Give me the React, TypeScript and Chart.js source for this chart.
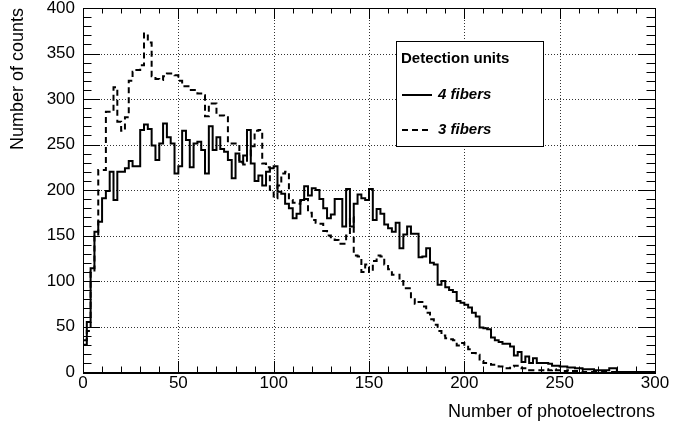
import React, { useEffect, useRef } from "react";
import { Chart, registerables } from "chart.js";

Chart.register(...registerables);

// ---------------- data ----------------
const BIN_WIDTH = 2;
const X_MIN = 0;
const X_MAX = 300;
const Y_MIN = 0;
const Y_MAX = 400;

const xTickValues = [0, 50, 100, 150, 200, 250, 300];
const yTickValues = [0, 50, 100, 150, 200, 250, 300, 350, 400];

const xTitle = "Number of photoelectrons";
const yTitle = "Number of counts";
const legendHeader = "Detection units";
const seriesLabels = ["4 fibers", "3 fibers"];

// counts per 2-photoelectron bin, 4-fiber units (solid)
const fourFibers = [
  30, 55, 114, 154, 165, 191, 199, 220, 189, 220,
  220, 224, 232, 226, 226, 266, 272, 267, 249, 233,
  251, 273, 258, 251, 218, 226, 265, 255, 225, 251,
  253, 244, 218, 270, 244, 258, 245, 242, 233, 213,
  240, 231, 238, 266, 229, 210, 216, 205, 220, 224,
  226, 198, 196, 185, 180, 169, 174, 189, 204, 194,
  202, 200, 190, 180, 169, 173, 190, 190, 160, 201,
  160, 185, 195, 191, 189, 201, 167, 179, 174, 162,
  158, 154, 164, 136, 151, 160, 152, 152, 126, 127,
  136, 120, 118, 96, 100, 93, 90, 88, 78, 76,
  74, 71, 65, 61, 49, 48, 47, 38, 35, 33,
  31, 31, 28, 18, 22, 11, 17, 10, 15, 10,
  10, 10, 9, 7, 7, 6, 6, 5, 5, 4,
  4, 3, 3, 3, 2, 2, 2, 2, 4, 4,
  0, 0, 0, 0, 0, 0, 0, 0, 0, 0,
];

// counts per 2-photoelectron bin, 3-fiber units (dashed)
const threeFibers = [
  35, 45, 110, 150, 222, 222, 286, 286, 313, 275,
  265, 280, 320, 330, 332, 337, 372, 362, 325, 322,
  321, 325, 328, 328, 326, 320, 314, 314, 310, 310,
  306, 304, 281, 295, 295, 282, 282, 280, 251, 251,
  251, 230, 228, 238, 248, 265, 266, 229, 225, 200,
  191, 205, 218, 220, 189, 186, 185, 188, 190, 175,
  167, 164, 163, 155, 150, 148, 145, 141, 141, 150,
  170, 128, 127, 110, 118, 110, 122, 128, 127, 118,
  113, 107, 107, 100, 92, 92, 80, 75, 77, 72,
  65, 58, 52, 45, 40, 37, 36, 35, 29, 32,
  30, 25, 21, 19, 12, 10, 10, 8, 8, 6,
  4, 4, 6, 7, 5, 4, 3, 2, 2, 2,
  2, 3, 2, 3, 2, 2, 1, 2, 1, 1,
  1, 0, 0, 0, 0, 0, 0, 0, 0, 0,
  0, 0, 0, 0, 0, 0, 0, 0, 0, 0,
];

// ---------------- styling ----------------
const FONT = "'Liberation Sans', Arial, Helvetica, sans-serif";
const W = 692;
const H = 426;

function toSteps(values: number[]) {
  const pts = values.map((v, i) => ({ x: X_MIN + i * BIN_WIDTH, y: v }));
  pts.push({ x: X_MIN + values.length * BIN_WIDTH, y: values[values.length - 1] });
  return pts;
}

const rootStyle = {
  id: "rootStyle",
  beforeDatasetsDraw(chart: any) {
    const { ctx, chartArea: a, scales } = chart;
    const xs = scales.x;
    const ys = scales.y;
    ctx.save();
    ctx.strokeStyle = "#333";
    ctx.lineWidth = 1;
    ctx.setLineDash([1, 2]);
    ctx.beginPath();
    for (const v of xTickValues) {
      if (v <= X_MIN || v >= X_MAX) continue;
      const px = Math.round(xs.getPixelForValue(v)) + 0.5;
      ctx.moveTo(px, a.top);
      ctx.lineTo(px, a.bottom);
    }
    for (const v of yTickValues) {
      if (v <= Y_MIN || v >= Y_MAX) continue;
      const py = Math.round(ys.getPixelForValue(v)) + 0.5;
      ctx.moveTo(a.left, py);
      ctx.lineTo(a.right, py);
    }
    ctx.stroke();
    ctx.restore();
  },
  afterDatasetsDraw(chart: any) {
    const { ctx, chartArea: a, scales } = chart;
    const xs = scales.x;
    const ys = scales.y;
    ctx.save();
    ctx.setLineDash([]);
    ctx.strokeStyle = "#000";
    ctx.lineWidth = 1;
    // ticks
    const xMajorLen = 11;
    const xMinorLen = 5.5;
    const yMajorLen = 17;
    const yMinorLen = 8.5;
    ctx.beginPath();
    for (let v = X_MIN; v <= X_MAX; v += 10) {
      const major = v % 50 === 0;
      const len = major ? xMajorLen : xMinorLen;
      const px = Math.round(xs.getPixelForValue(v)) + 0.5;
      ctx.moveTo(px, a.bottom);
      ctx.lineTo(px, a.bottom - len);
      ctx.moveTo(px, a.top);
      ctx.lineTo(px, a.top + len);
    }
    for (let v = Y_MIN; v <= Y_MAX; v += 10) {
      const major = v % 50 === 0;
      const len = major ? yMajorLen : yMinorLen;
      const py = Math.round(ys.getPixelForValue(v)) + 0.5;
      ctx.moveTo(a.left, py);
      ctx.lineTo(a.left + len, py);
      ctx.moveTo(a.right, py);
      ctx.lineTo(a.right - len, py);
    }
    ctx.stroke();
    // frame
    ctx.lineWidth = 1;
    ctx.strokeRect(Math.round(a.left) + 0.5, Math.round(a.top) + 0.5, Math.round(a.right - a.left), Math.round(a.bottom - a.top));
    ctx.lineWidth = 2;
    ctx.beginPath();
    ctx.moveTo(a.left, Math.round(a.bottom) + 1);
    ctx.lineTo(a.right + 1, Math.round(a.bottom) + 1);
    ctx.stroke();

    // legend
    const lx = 396.5;
    const ly = 41.5;
    const lw = 147;
    const lh = 105;
    ctx.fillStyle = "#fff";
    ctx.fillRect(lx, ly, lw, lh);
    ctx.lineWidth = 1;
    ctx.strokeStyle = "#000";
    ctx.strokeRect(lx, ly, lw, lh);
    ctx.fillStyle = "#000";
    ctx.textBaseline = "middle";
    ctx.textAlign = "left";
    ctx.font = `bold 15px ${FONT}`;
    ctx.fillText(legendHeader, 401, 59);
    const rows = [95, 130];
    const dashes = [[], [6, 4]];
    chart.data.datasets.forEach((ds: any, i: number) => {
      ctx.lineWidth = 2;
      ctx.setLineDash(dashes[i]);
      ctx.beginPath();
      ctx.moveTo(402, rows[i]);
      ctx.lineTo(432, rows[i]);
      ctx.stroke();
      ctx.setLineDash([]);
      ctx.font = `italic bold 15px ${FONT}`;
      ctx.fillText(seriesLabels[i], 438, rows[i]);
    });
    ctx.restore();
  },
};

export default function App() {
  const ref = useRef<HTMLCanvasElement | null>(null);

  useEffect(() => {
    document.body.style.margin = "0";
    const canvas = ref.current;
    if (!canvas) return;
    const chart = new Chart(canvas, {
      type: "line",
      data: {
        datasets: [
          {
            label: seriesLabels[0],
            data: toSteps(fourFibers),
            borderColor: "#000",
            borderWidth: 2,
            stepped: "before",
            pointRadius: 0,
            fill: false,
            borderJoinStyle: "miter",
          },
          {
            label: seriesLabels[1],
            data: toSteps(threeFibers),
            borderColor: "#000",
            borderWidth: 2,
            borderDash: [6, 4],
            stepped: "before",
            pointRadius: 0,
            fill: false,
            borderJoinStyle: "miter",
          },
        ],
      },
      options: {
        animation: false,
        responsive: false,
        devicePixelRatio: 1,
        parsing: false,
        normalized: true,
        layout: { padding: { left: 0, right: 37, top: 8, bottom: 0 } },
        plugins: {
          legend: { display: false },
          tooltip: { enabled: false },
        },
        scales: {
          x: {
            type: "linear",
            min: X_MIN,
            max: X_MAX,
            afterBuildTicks: (s: any) => {
              s.ticks = xTickValues.map((v) => ({ value: v }));
            },
            ticks: {
              autoSkip: false,
              maxRotation: 0,
              padding: 1,
              color: "#000",
              font: { family: FONT, size: 17 },
            },
            grid: { display: false, drawTicks: false },
            border: { display: false },
            title: {
              display: true,
              text: xTitle,
              align: "end",
              color: "#000",
              font: { family: FONT, size: 18 },
              padding: { top: 0, bottom: 3 },
            },
            afterFit: (s: any) => {
              s.height = 54;
              s.paddingLeft = 0;
              s.paddingRight = 0;
              s.paddingTop = 0;
              s.paddingBottom = 0;
            },
          },
          y: {
            type: "linear",
            min: Y_MIN,
            max: Y_MAX,
            afterBuildTicks: (s: any) => {
              s.ticks = yTickValues.map((v) => ({ value: v }));
            },
            ticks: {
              autoSkip: false,
              padding: 8,
              color: "#000",
              font: { family: FONT, size: 17 },
            },
            grid: { display: false, drawTicks: false },
            border: { display: false },
            title: {
              display: true,
              text: yTitle,
              align: "end",
              color: "#000",
              font: { family: FONT, size: 18 },
              padding: { top: 7, bottom: 0 },
            },
            afterFit: (s: any) => {
              s.width = 83;
              s.paddingLeft = 0;
              s.paddingRight = 0;
              s.paddingTop = 0;
              s.paddingBottom = 0;
            },
          },
        },
      } as any,
      plugins: [rootStyle],
    });
    return () => chart.destroy();
  }, []);

  return (
    <div style={{ width: W, height: H, background: "#fff" }}>
      <canvas ref={ref} width={W} height={H} style={{ display: "block", width: W, height: H }} />
    </div>
  );
}
